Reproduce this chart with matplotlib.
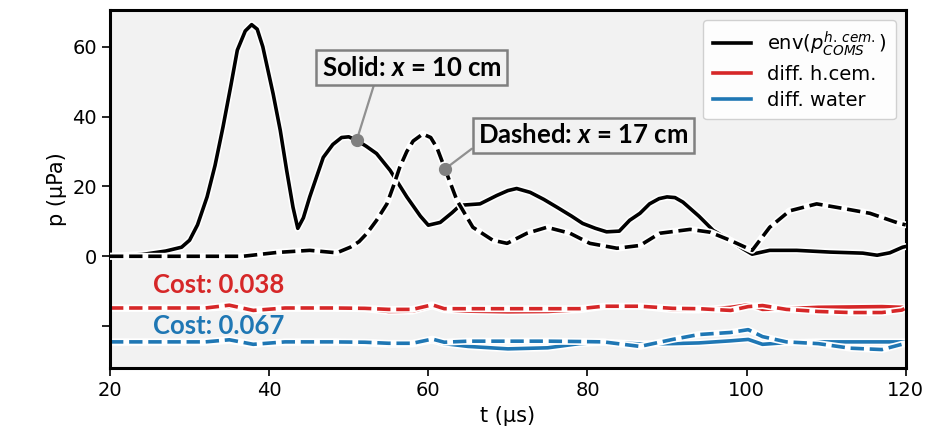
import matplotlib
matplotlib.use("Agg")
import matplotlib.pyplot as plt

# Envelope of the h.cem. COMS pressure at two receiver positions (µPa)
t_solid = [20, 24, 27, 29, 30, 31, 32.2, 33.2, 34.2, 35.2, 36, 37, 37.8, 38.5, 39.2,
           40.5, 41.4, 42.2, 43, 43.6, 44.3, 45.1, 46, 46.8, 48, 49.1, 50, 51, 52.2,
           53.5, 55.2, 57.3, 59, 60, 61.5, 63, 64, 66.5, 68.6, 70, 71.1, 72.8, 74.5,
           76.2, 78, 79.4, 81, 82.4, 84, 85.3, 86.6, 87.8, 89, 90, 91, 92, 94, 95.8,
           97.9, 99.5, 100.7, 102.9, 106.3, 110.5, 114.6, 116.4, 118, 119.6, 120]
p_solid = [0, 0.5, 1.5, 2.6, 4.6, 9, 17, 26, 37, 49, 59, 64.5, 66.3, 65, 60,
           46.5, 36, 24.6, 14, 8, 11, 17, 23, 28.3, 32, 34, 34.2, 33.2, 31.5,
           29.4, 24.6, 17, 11.5, 8.9, 9.7, 12.5, 14.6, 15, 17.4, 18.8, 19.4, 18.3, 16.3,
           14, 11.5, 9.4, 8.0, 7, 7.2, 10.3, 12.3, 15, 16.5, 17, 16.8, 15.5, 11.5, 7.4,
           4.6, 2.2, 0.6, 1.7, 1.7, 1.2, 0.9, 0.3, 1.0, 2.6, 2.8]

t_dash = [20, 30, 36.7, 41, 45.1, 48.5, 50.2, 51.3, 52.3, 53.5, 54.8, 55.6, 56.4,
          57.3, 58.1, 59.3, 60.3, 61.1, 62.1, 63.6, 65.6, 68.1, 69.9, 72.4, 74.9,
          77.8, 80.3, 83.7, 86.6, 89.1, 92.9, 95.4, 97.9, 100.7, 102.9, 105.4,
          108.8, 112.1, 115.5, 119.2, 120]
p_dash = [0, 0, 0, 1.1, 1.7, 1.0, 2.6, 4.2, 6.6, 10.3, 15, 20, 25.4,
          30, 33, 35, 34, 31, 25, 16, 8.3, 4.6, 3.7, 6.6, 8.3,
          6.6, 3.7, 2.3, 3.1, 6.6, 7.7, 6.9, 4.6, 1.7, 8.3, 13,
          15, 13.7, 12.3, 9.4, 9]

# Differences, shifted down for display
t_diff = [20, 26, 32, 35, 38, 42, 48, 52, 55, 58, 60.5, 62, 65, 70, 75, 79, 82,
          86.6, 90.7, 94, 98, 100.2, 102, 105, 109, 113, 117, 119.5, 120]
hcem_solid = [-14.9, -14.9, -14.9, -14.4, -15.4, -14.9, -14.9, -15.0, -15.8, -15.7,
              -14.2, -15.3, -15.7, -15.9, -15.8, -15.3, -14.4, -14.3, -15.3, -15.4,
              -14.6, -13.9, -15.2, -15.0, -14.6, -14.5, -14.4, -14.6, -14.6]
hcem_dash = [-14.8, -14.8, -14.8, -14.0, -15.5, -14.8, -14.8, -14.9, -15.2, -15.2,
             -13.9, -15.0, -15.0, -15.0, -15.0, -15.0, -14.3, -14.3, -14.9, -15.0,
             -15.5, -14.4, -14.1, -15.2, -15.8, -16.1, -16.1, -15.4, -14.8]
water_solid = [-24.6, -24.6, -24.6, -24.1, -25.2, -24.6, -24.6, -24.8, -25.2, -25.1,
               -24.0, -25.0, -25.8, -26.5, -26.2, -25.0, -24.6, -25.1, -25.0, -24.8,
               -24.2, -23.8, -25.2, -24.7, -24.5, -24.5, -24.5, -24.5, -24.5]
water_dash = [-24.5, -24.5, -24.5, -23.9, -25.2, -24.5, -24.5, -24.6, -24.9, -24.9,
              -23.7, -24.6, -24.3, -24.3, -24.3, -24.4, -24.5, -25.8, -23.8, -22.4,
              -21.8, -21.0, -23.0, -24.5, -25.0, -26.3, -26.7, -25.2, -25.0]

cost_hcem = "Cost: 0.038"
cost_water = "Cost: 0.067"
legend_labels = [r"env($p^{h.\,cem.}_{COMS}$)", "diff. h.cem.", "diff. water"]
x_ticks = [20, 40, 60, 80, 100, 120]
y_ticks = [-20, 0, 20, 40, 60]
y_ticklabels = ["", "0", "20", "40", "60"]

RED = "#d62728"
BLUE = "#1f77b4"
PANEL_BG = "#f2f2f2"

plt.rcParams["font.family"] = ["DejaVu Sans"]
plt.rcParams["mathtext.fontset"] = "dejavusans"
plt.rcParams["mathtext.rm"] = "Lato:bold"
plt.rcParams["mathtext.it"] = "Lato:italic:bold"
plt.rcParams["mathtext.bf"] = "Lato:bold"

fig = plt.figure(figsize=(9.29, 4.44), dpi=100)
ax = fig.add_axes([0.1184, 0.171, 0.8566, 0.8065])
ax.set_facecolor(PANEL_BG)

LW = 2.6
HALO = LW + 2.4


def haloed(x, y, color, ls, z):
    """Draw a line on top of a solid white outline of itself."""
    ax.plot(x, y, color="white", lw=HALO, ls="-", solid_capstyle="round",
            solid_joinstyle="round", zorder=z)
    line, = ax.plot(x, y, color=color, lw=LW, ls=ls, zorder=z + 0.05)
    return line


l_red = haloed(t_diff, hcem_solid, RED, "-", 2.0)
haloed(t_diff, hcem_dash, RED, "--", 2.1)
l_blue = haloed(t_diff, water_solid, BLUE, "-", 2.2)
haloed(t_diff, water_dash, BLUE, "--", 2.3)
l_env = haloed(t_solid, p_solid, "black", "-", 3.0)
haloed(t_dash, p_dash, "black", "--", 3.1)

ax.set_xlim(20, 120)
ax.set_ylim(-32, 70.5)
ax.set_xticks(x_ticks)
ax.set_yticks(y_ticks)
ax.set_yticklabels(y_ticklabels)
ax.tick_params(labelsize=14, length=6, width=1.2)
ax.set_xlabel("t (µs)", fontsize=15)
ax.set_ylabel("p (µPa)", fontsize=15)
for sp in ax.spines.values():
    sp.set_linewidth(2.2)

# Callouts for the two receiver positions
box = dict(boxstyle="square,pad=0.22", facecolor=PANEL_BG, edgecolor="#808080", lw=1.8)
ann_font = dict(fontsize=18.5, fontweight="bold", family="Lato", math_fontfamily="custom")

ax.annotate(r"Solid: $x$ = 10 cm", xy=(51, 33.2), xytext=(57.9, 54),
            ha="center", va="center", bbox=box, zorder=5,
            arrowprops=dict(arrowstyle="-", color="#909090", lw=1.6, shrinkA=0,
                            shrinkB=0, relpos=(0.3, 0.0)),
            **ann_font)
ax.annotate(r"Dashed: $x$ = 17 cm", xy=(62.1, 25), xytext=(79.5, 34.6),
            ha="center", va="center", bbox=box, zorder=5,
            arrowprops=dict(arrowstyle="-", color="#909090", lw=1.6, shrinkA=0,
                            shrinkB=0, relpos=(0.0, 0.15)),
            **ann_font)
ax.plot([51, 62.1], [33.2, 25], ls="none", marker="o", ms=8.5, color="#808080", zorder=6)

ax.text(25.4, -8.3, cost_hcem, color=RED, ha="left", va="center",
        fontsize=18.5, fontweight="bold", family="Lato", zorder=5)
ax.text(25.4, -20.0, cost_water, color=BLUE, ha="left", va="center",
        fontsize=18.5, fontweight="bold", family="Lato", zorder=5)

ax.legend([l_env, l_red, l_blue], legend_labels, loc="upper right", fontsize=14,
          framealpha=0.9, handlelength=2.0, borderpad=0.5, labelspacing=0.35)

fig.savefig("out.png", dpi=100, facecolor="white")
